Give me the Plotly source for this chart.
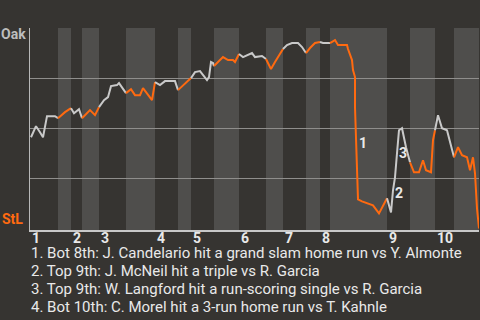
import plotly.graph_objects as go

# Game progress (event units) and Oakland win probability (%)
x_vals = [0.2, 1.2, 2.0, 2.6, 3.4, 5.0, 5.6, 7.0, 8.2, 8.8, 9.8, 10.4, 12.0, 13.0, 13.8,
          14.8, 15.6, 16.2, 17.4, 17.8, 19.2, 20.2, 21.0, 22.0, 22.6, 23.6, 24.4, 25.0,
          26.0, 27.0, 29.0, 29.6, 32.0, 32.2, 33.0, 34.0, 34.6, 35.4, 35.8, 36.2, 36.6, 36.8,
          38.6, 39.6, 40.6, 41.0, 41.8, 42.6, 44.4, 45.0, 46.4, 47.2, 48.2, 49.0, 50.0, 50.6,
          51.4, 52.4, 53.6, 54.4, 55.2, 56.0, 57.0, 58.0, 58.6, 60.0, 61.0, 61.6, 63.4, 63.6,
          64.4, 64.6, 65.0, 65.0, 65.2, 65.4, 65.6, 66.4, 67.6, 68.6, 69.8, 70.8, 71.4,
          71.8, 72.2, 72.6, 73.0, 73.4, 73.8, 74.4, 75.2, 76.0, 76.8, 77.8, 78.6, 79.2, 80.2,
          80.6, 81.0, 81.6, 82.4, 83.4, 84.8, 85.6, 86.4, 87.4, 88.0, 88.6, 89.0, 89.4, 89.8]
oak_wp = [45.5, 51, 48, 45.5, 56, 56, 55, 58, 60, 57.5, 59.5, 55, 59, 56.5, 60.5,
          64, 65.5, 71, 71.5, 72.5, 67.5, 69.5, 66.5, 66.5, 70, 66.5, 64, 73,
          71.5, 73.5, 73.5, 69, 74.5, 75, 78, 78.5, 76.5, 74, 75.5, 83, 82.5, 81,
          85.5, 84, 84, 83, 87, 85.5, 87.5, 85.5, 86, 84.5, 79.5, 83, 87.5, 89.5,
          91.5, 92.5, 92.5, 90.5, 87.5, 90, 92.5, 93, 92.5, 92.5, 94, 91.5, 91.5, 89.5,
          84, 79, 75.5, 60.5, 45, 34, 14.5, 13.5, 12.5, 11.5, 7.5, 12.5, 15,
          11.5, 8, 19, 25.5, 37.5, 49, 50, 40.5, 33, 28, 28, 34, 29, 28,
          44, 49, 56.5, 50, 49, 35.5, 40.5, 36.5, 35.5, 29, 35.5, 27.5, 10, 0]

# Half-inning boundaries (top 1 ... bottom 10)
half_bounds = [0, 5.6, 8.2, 10.4, 13.8, 19.2, 25.0, 29.6, 32.2, 36.8, 41.8, 47.2, 50.6,
               55.2, 58.0, 60.0, 71.4, 76.0, 81.0, 84.8, 89.8]
inning_labels = ["1", "2", "3", "4", "5", "6", "7", "8", "9", "10"]

# Key play markers
play_nums = ["1", "2", "3"]
play_x = [66.6, 73.8, 74.6]
play_wp = [42.5, 17.5, 37.5]
play_notes = [
    "1. Bot 8th: J. Candelario hit a grand slam home run vs Y. Almonte",
    "2. Top 9th: J. McNeil hit a triple vs R. Garcia",
    "3. Top 9th: W. Langford hit a run-scoring single vs R. Garcia",
    "4. Bot 10th: C. Morel hit a 3-run home run vs T. Kahnle",
]

BG = "#363431"
BAND = "#4f4e4c"
GRAY = "#c9c9c9"
ORANGE = "#ff6a10"
TEXT = "#e9e9e9"

fig = go.Figure()
shapes = []
for i in range(len(half_bounds) - 1):
    s, e = half_bounds[i], half_bounds[i + 1]
    if i % 2 == 1:
        shapes.append(dict(type="rect", xref="x", yref="paper", x0=s, x1=e, y0=0, y1=1,
                           fillcolor=BAND, line=dict(width=0), layer="below"))
    xs = [x for x in x_vals if s - 1e-9 <= x <= e + 1e-9]
    ys = [y for x, y in zip(x_vals, oak_wp) if s - 1e-9 <= x <= e + 1e-9]
    fig.add_trace(go.Scatter(x=xs, y=ys, mode="lines",
                             line=dict(color=ORANGE if i % 2 else GRAY, width=2),
                             hoverinfo="skip", showlegend=False))

annotations = []
for k in range(len(inning_labels)):
    annotations.append(dict(x=half_bounds[2 * k], y=0, xref="x", yref="paper",
                            text=inning_labels[k], showarrow=False, xanchor="left",
                            yanchor="middle", yshift=-8, xshift=0,
                            font=dict(family="Roboto", size=14, color=TEXT, weight="bold")))
for t, px, py in zip(play_nums, play_x, play_wp):
    annotations.append(dict(x=px, y=py, xref="x", yref="y", text=t, showarrow=False,
                            font=dict(family="Roboto", size=14, color=TEXT, weight="bold")))
for j, note in enumerate(play_notes):
    annotations.append(dict(x=0, y=0, xref="paper", yref="paper", text=note,
                            showarrow=False, xanchor="left", yanchor="middle",
                            xshift=-1, yshift=-23 - 18 * j,
                            font=dict(family="Roboto", size=15, color=TEXT)))
annotations.append(dict(x=0, y=100, xref="paper", yref="y", text="Oak", showarrow=False,
                        xanchor="right", yanchor="middle", xshift=-2, yshift=-6,
                        font=dict(family="Roboto", size=14, color="#bdbdbd", weight="bold")))
annotations.append(dict(x=0, y=0, xref="paper", yref="y", text="StL", showarrow=False,
                        xanchor="right", yanchor="middle", xshift=-5, yshift=9,
                        font=dict(family="Roboto", size=14, color=ORANGE, weight="bold")))

fig.update_layout(
    width=480, height=320,
    margin=dict(l=30, r=1, t=28, b=90),
    paper_bgcolor=BG, plot_bgcolor=BG,
    shapes=shapes, annotations=annotations,
    xaxis=dict(range=[0, 89.8], showgrid=False, zeroline=False, showticklabels=False,
               showline=True, linecolor="#c8c8c8", linewidth=2, ticks=""),
    yaxis=dict(range=[-0.8, 100], tickvals=[25, 50, 75, 100], showticklabels=False,
               showgrid=True, gridcolor="#8f8e8c", gridwidth=1, zeroline=False,
               showline=True, linecolor="#b8b8b8", linewidth=1, ticks=""),
)

fig.write_html("out.html")
